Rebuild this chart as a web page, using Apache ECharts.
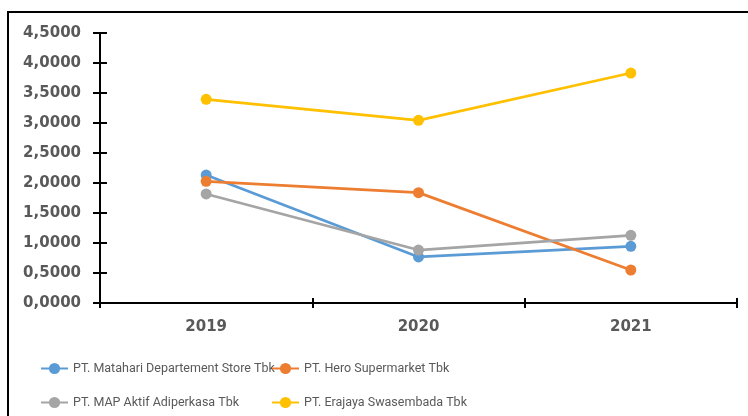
<!DOCTYPE html>
<html>
<head>
<meta charset="utf-8">
<script src="https://cdn.jsdelivr.net/npm/echarts@6/dist/echarts.min.js"></script>
<style>
  html, body { margin: 0; padding: 0; background: #fff; }
  #my_chart { width: 748px; height: 416px; }
</style>
</head>
<body>
<div id="my_chart"></div>
<script>
  // data
  var years = ['2019', '2020', '2021'];
  var matahari = [2.133, 0.767, 0.945];
  var hero = [2.028, 1.839, 0.550];
  var mapAktif = [1.817, 0.883, 1.128];
  var erajaya = [3.395, 3.045, 3.833];

  var names = [
    'PT. Matahari Departement Store Tbk',
    'PT. Hero Supermarket Tbk',
    'PT. MAP Aktif Adiperkasa Tbk',
    'PT. Erajaya Swasembada Tbk'
  ];
  var colors = ['#5B9BD5', '#ED7D31', '#A5A5A5', '#FFC000'];
  var values = [matahari, hero, mapAktif, erajaya];

  var my_chart = echarts.init(document.getElementById('my_chart'));

  var labelStyle = { color: '#595959', fontFamily: 'DejaVu Sans', fontWeight: 'bold', fontSize: 15 };
  var lineAxis = { show: true, lineStyle: { color: '#000', width: 2 } };

  var series = values.map(function (v, i) {
    return {
      name: names[i],
      type: 'line',
      data: v,
      symbol: 'circle',
      symbolSize: 11,
      lineStyle: { width: 2.75, color: colors[i] },
      itemStyle: { color: colors[i] },
      z: 3 + i
    };
  });

  var legendText = { color: '#595959', fontFamily: 'Roboto', fontSize: 12.5 };

  my_chart.setOption({
    animation: false,
    graphic: [{
      type: 'rect',
      shape: { x: 8, y: 12, width: 800, height: 500 },
      style: { fill: 'none', stroke: '#000', lineWidth: 2 },
      silent: true
    }],
    grid: { left: 100, right: 11, top: 33, bottom: 113 },
    legend: [{
      orient: 'vertical', left: 40, top: 362, padding: 0, height: 60,
      itemWidth: 27, itemHeight: 14, itemGap: 21,
      data: [names[0], names[2]], textStyle: legendText
    }, {
      orient: 'vertical', left: 271, top: 362, padding: 0, height: 60,
      itemWidth: 27, itemHeight: 14, itemGap: 21,
      data: [names[1], names[3]], textStyle: legendText
    }],
    xAxis: [{
      type: 'category', data: years, boundaryGap: true,
      axisLine: lineAxis,
      axisTick: { show: true, length: 5, lineStyle: { color: '#000', width: 2 } },
      axisLabel: Object.assign({ margin: 17 }, labelStyle)
    }, {
      type: 'category', data: years, boundaryGap: true, position: 'bottom',
      axisLine: { show: false },
      axisTick: { show: true, inside: true, length: 5, lineStyle: { color: '#000', width: 2 } },
      axisLabel: { show: false }
    }],
    yAxis: [{
      type: 'value', min: 0, max: 4.5, interval: 0.5,
      axisLine: lineAxis,
      axisTick: { show: true, length: 7, lineStyle: { color: '#000', width: 2 } },
      splitLine: { show: false },
      axisLabel: Object.assign({
        margin: 19,
        formatter: function (v) { return v.toFixed(4).replace('.', ','); }
      }, labelStyle)
    }, {
      type: 'value', min: 0, max: 4.5, interval: 0.5, position: 'left',
      axisLine: { show: false },
      axisTick: { show: true, inside: true, length: 7, lineStyle: { color: '#000', width: 2 } },
      splitLine: { show: false },
      axisLabel: { show: false }
    }],
    series: series
  });
</script>
</body>
</html>
